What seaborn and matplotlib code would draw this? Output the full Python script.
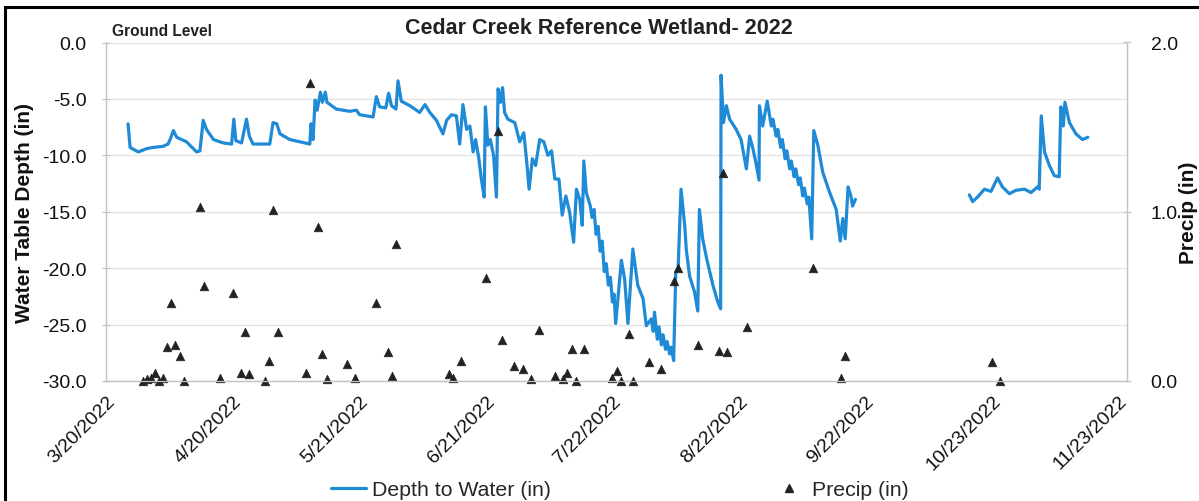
import pandas as pd
import numpy as np
import matplotlib.pyplot as plt
from matplotlib.lines import Line2D
from matplotlib.patches import Rectangle
import seaborn as sns

# Cedar Creek Reference Wetland - 2022 water table depth and precip

start_date = pd.Timestamp('2022-03-20')

# depth logger, days since 3/20/2022 -> depth to water (in), spring/summer record
depth_day1 = [5.4, 5.9, 7.9, 10.0, 11.6, 14.0, 15.2, 15.7, 16.5, 17.3, 19.7, 22.2, 23.0,
              23.8, 24.6, 26.3, 28.7, 30.75, 31.3, 31.8, 33.2, 34.4, 35.1, 36.0, 40.1,
              40.9, 41.8, 42.6, 45.0, 47.5, 49.9, 50.2, 50.7, 51.2, 51.7, 52.5, 53.0,
              53.7, 54.1, 56.4, 59.7, 61.3, 62.1, 65.4, 66.2, 67.0, 68.5, 69.2, 69.9,
              71.0, 71.5, 72.3, 74.4, 76.8, 78.1, 79.3, 80.9, 82.5, 83.4, 84.6, 85.8,
              86.6, 87.4, 88.3, 89.1, 89.9, 90.5, 91.3, 91.9, 92.6, 92.9, 93.5, 94.1,
              94.9, 95.6, 96.0, 96.6, 97.1, 97.6, 98.4, 100.1, 101.3, 102.3, 103.1,
              103.6, 104.4, 105.2, 106.2, 107.2, 108.2, 109.1, 109.9, 110.9, 111.7,
              112.6, 113.5, 114.5, 115.2, 116.0, 116.6, 117.0, 117.6, 118.6, 119.0,
              119.5, 120.0, 120.5, 121.0, 121.5, 122.0, 122.5, 123.0, 123.5, 124.0,
              124.4, 124.8, 126.2, 127.0, 127.8, 129.0, 130.2, 131.5, 132.3, 133.5,
              134.0, 134.3, 135.0, 135.4, 136.0, 136.4, 137.0, 137.4, 138.0, 138.4,
              139.0, 139.5, 140.1, 140.8, 141.7, 142.1, 142.9, 144.1, 144.9, 145.3,
              146.1, 147.1, 148.6, 149.8, 150.5, 150.6, 151.2, 151.9, 152.7, 154.3,
              155.5, 156.8, 157.6, 158.4, 159.1, 159.9, 160.0, 160.8, 161.9, 162.9,
              163.3, 164.1, 164.5, 165.2, 165.6, 166.3, 166.7, 167.4, 167.8, 168.5,
              168.9, 169.6, 170.0, 170.6, 171.0, 171.7, 172.1, 172.8, 173.3, 174.3,
              175.5, 177.2, 178.8, 179.8, 180.4, 181.0, 181.7, 182.4, 182.8, 183.5]
depth_in1 = [-7.2, -9.3, -9.7, -9.4, -9.3, -9.2, -9.0, -8.6, -7.8, -8.4, -8.8, -9.7, -9.6,
             -6.9, -7.7, -8.6, -8.9, -9.0, -6.8, -8.7, -8.9, -6.8, -8.3, -9.0, -9.0,
             -7.1, -7.2, -8.1, -8.6, -8.8, -9.0, -7.2, -8.6, -5.1, -6.0, -4.4, -5.3,
             -4.4, -5.3, -5.9, -6.1, -6.0, -6.4, -6.6, -4.8, -5.7, -5.8, -4.5, -5.6,
             -5.9, -3.4, -5.2, -5.6, -6.2, -5.5, -6.2, -6.9, -8.1, -6.9, -6.4, -6.5,
             -9.0, -5.5, -7.7, -7.4, -9.7, -8.6, -10.3, -12.1, -13.7, -5.7, -9.1, -8.6,
             -10.0, -13.7, -4.1, -5.3, -4.0, -6.2, -6.8, -7.1, -8.8, -8.0, -10.9,
             -13.0, -10.3, -10.9, -8.6, -8.8, -10.0, -9.6, -12.1, -12.1, -15.3,
             -13.6, -15.0, -17.7, -13.0, -13.9, -16.2, -10.5, -13.3, -14.5, -15.5,
             -14.8, -17.0, -16.3, -18.5, -17.6, -20.3, -19.6, -21.5, -20.8, -23.0,
             -22.3, -24.9, -19.3, -21.0, -24.9, -18.3, -21.5, -22.7, -25.1, -24.5,
             -25.6, -23.9, -26.3, -25.2, -26.8, -25.9, -27.2, -26.5, -27.6, -27.0,
             -28.2, -20.4, -19.9, -13.0, -16.2, -18.4, -20.7, -22.1, -23.8, -14.8,
             -17.4, -19.2, -21.5, -23.0, -23.6, -2.9, -7.1, -5.6, -6.8, -7.7,
             -8.6, -11.2, -8.3, -9.4, -10.6, -12.2, -5.6, -7.4, -5.2, -7.4,
             -6.8, -8.3, -7.7, -9.3, -8.6, -10.3, -9.6, -11.2, -10.5, -11.9,
             -11.2, -12.6, -12.0, -13.6, -12.9, -14.3, -13.7, -17.4, -7.8, -9.1,
             -11.5, -13.3, -14.8, -17.6, -15.6, -17.4, -12.8, -13.6, -14.5, -13.9]

# fall record after the logger gap
depth_day2 = [211.4, 212.2, 213.4, 215.1, 216.7, 218.3, 219.5, 221.2, 222.8, 224.9, 226.5,
              228.1, 228.5, 229.0, 229.8, 231.0, 232.2, 233.4, 233.8, 234.4, 234.8, 235.9,
              237.5, 239.1, 240.4]
depth_in2 = [-13.5, -14.1, -13.7, -13.0, -13.2, -12.0, -12.8, -13.4, -13.1, -13.0, -13.3,
             -12.8, -13.0, -6.5, -9.7, -10.9, -11.8, -11.9, -5.7, -7.4, -5.3, -7.1,
             -8.1, -8.6, -8.4]

# daily precip (in)
precip_dates = ['3/29', '3/30', '3/31', '4/1', '4/2', '4/3', '4/4', '4/5', '4/6', '4/7',
                '4/8', '4/12', '4/13', '4/17', '4/20', '4/22', '4/23', '4/24', '4/28',
                '4/29', '4/30', '5/1', '5/8', '5/9', '5/11', '5/12', '5/13', '5/18',
                '5/20', '5/25', '5/28', '5/29', '5/30', '6/12', '6/13', '6/15', '6/21',
                '6/24', '6/25', '6/28', '6/30', '7/2', '7/4', '7/8', '7/10', '7/11',
                '7/12', '7/13', '7/15', '7/22', '7/23', '7/24', '7/26', '7/27', '7/31',
                '8/3', '8/6', '8/7', '8/12', '8/17', '8/18', '8/19', '8/24', '9/9',
                '9/16', '9/17', '10/23', '10/25']
precip_in = [0.0, 0.01, 0.02, 0.05, 0.0, 0.02, 0.20, 0.46, 0.21, 0.15,
             0.0, 1.03, 0.56, 0.02, 0.52, 0.05, 0.29, 0.04, 0.0,
             0.12, 1.01, 0.29, 0.05, 1.76, 0.91, 0.16, 0.01, 0.10,
             0.02, 0.46, 0.17, 0.03, 0.81, 0.04, 0.02, 0.12, 0.61,
             1.48, 0.24, 0.09, 0.07, 0.01, 0.30, 0.03, 0.01, 0.05,
             0.19, 0.0, 0.19, 0.02, 0.06, 0.0, 0.28, 0.0, 0.11,
             0.07, 0.59, 0.67, 0.21, 0.18, 1.23, 0.17, 0.32, 0.67,
             0.02, 0.15, 0.11, 0.0]

tick_dates = ['3/20/2022', '4/20/2022', '5/21/2022', '6/21/2022', '7/22/2022',
              '8/22/2022', '9/22/2022', '10/23/2022', '11/23/2022']
depth_ticks = [-30.0, -25.0, -20.0, -15.0, -10.0, -5.0, 0.0]
precip_ticks = [0.0, 1.0, 2.0]

# build tables
df_depth = pd.concat([
    pd.DataFrame({'Date': start_date + pd.to_timedelta(depth_day1, unit='D'),
                  'Depth': depth_in1, 'seg': 1}),
    pd.DataFrame({'Date': start_date + pd.to_timedelta(depth_day2, unit='D'),
                  'Depth': depth_in2, 'seg': 2}),
], ignore_index=True)
df_precip = pd.DataFrame({
    'Date': pd.to_datetime([d + '/2022' for d in precip_dates], format='%m/%d/%Y'),
    'Precip': precip_in})
ticks = pd.to_datetime(tick_dates, format='%m/%d/%Y')

sns.set_theme(style='white')
plt.rcParams['font.family'] = ['Liberation Sans', 'DejaVu Sans']

blue = '#1f8ad6'
mark = '#222222'
axis_gray = '#c4c4c4'
txt = '#111111'

fig = plt.figure(figsize=(11.99, 5.02), dpi=100)
ax = fig.add_axes([106 / 1199, 1 - 382 / 502, 1021 / 1199, 338.5 / 502])
ax2 = ax.twinx()

sns.lineplot(data=df_depth, x='Date', y='Depth', units='seg', estimator=None,
             color=blue, lw=2.3, ax=ax, legend=False)
sns.scatterplot(data=df_precip, x='Date', y='Precip', marker='^', color=mark,
                s=38, edgecolor=mark, linewidth=0.5, ax=ax2, legend=False, clip_on=False)

ax.set_xlim(ticks[0], ticks[-1] + pd.Timedelta(days=2))
ax.set_ylim(-30, 0)
ax2.set_ylim(0, 2)

ax.set_yticks(depth_ticks)
ax.set_yticklabels([f'{v:.1f}' for v in depth_ticks], fontsize=14)
ax2.set_yticks(precip_ticks)
ax2.set_yticklabels([f'{v:.1f}' for v in precip_ticks], fontsize=14)
ax.set_xticks(ticks)
ax.set_xticklabels(tick_dates, rotation=45, ha='right', va='top',
                   rotation_mode='anchor', fontsize=14)

ax.grid(axis='y', color='#e2e2e2', lw=0.9)
ax.grid(axis='x', visible=False)
ax2.grid(False)

for a in (ax, ax2):
    a.spines['top'].set_visible(False)
    for s in ('left', 'right', 'bottom'):
        a.spines[s].set_color(axis_gray)
        a.spines[s].set_linewidth(0.9)
ax.tick_params(axis='both', which='major', direction='inout', length=6,
               color=axis_gray, width=0.9, labelcolor=txt)
ax.tick_params(axis='y', pad=11)
ax.tick_params(axis='x', pad=5)
ax2.tick_params(axis='y', direction='inout', length=6, color=axis_gray, width=0.9,
                pad=14, labelcolor=txt)

ax.set_xlabel('')
ax.set_ylabel('Water Table Depth (in)', fontsize=15, fontweight='bold', color=txt)
ax.yaxis.set_label_coords(-0.071, 0.5)
ax2.set_ylabel('Precip (in)', fontsize=15, fontweight='bold', color=txt)
ax2.yaxis.set_label_coords(1.051, 0.5)

fig.text(0.4996, 1 - 29 / 502, 'Cedar Creek Reference Wetland- 2022', ha='center',
         va='center', fontsize=15.5, fontweight='bold', color='#222222')
fig.text(112 / 1199, 1 - 32 / 502, 'Ground Level', ha='left', va='center',
         fontsize=11.2, fontweight='bold', color='#222222')

handles = [Line2D([], [], color=blue, lw=2.3),
           Line2D([], [], color=mark, marker='^', ls='', markersize=6)]
fig.legend(handles, ['Depth to Water (in)', 'Precip (in)'], loc='center',
           bbox_to_anchor=(0.517, 1 - 491 / 502), ncol=2, frameon=False,
           fontsize=15.3, handlelength=1.65, columnspacing=10.4, handletextpad=0.25)

fig.patches.append(Rectangle((5 / 1199, -0.02), 1.0, 1 - 8 / 502 + 0.02,
                             transform=fig.transFigure, fill=False, ec='black', lw=2.2))

plt.savefig('out.png', dpi=100)
plt.close()
